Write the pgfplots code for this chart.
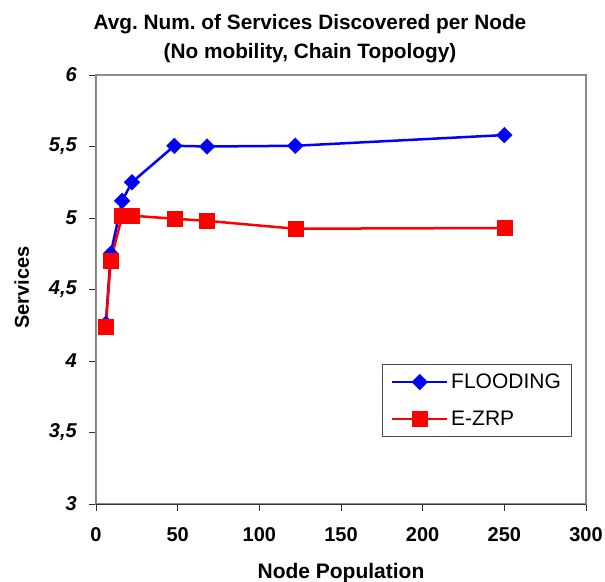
\documentclass[border=0pt]{standalone}
\usepackage{fontspec}
\setmainfont{Liberation Sans}
\usepackage{pgfplots}
\pgfplotsset{compat=1.18}
\frenchspacing
\newcommand\fs{\fontsize{20bp}{24bp}\selectfont}
\newcommand\fx{\fontsize{21bp}{25bp}\selectfont}
\newcommand\ft{\fontsize{20.8bp}{29bp}\selectfont}
\definecolor{flood}{RGB}{0,0,255}
\definecolor{ezrp}{RGB}{255,0,0}
\begin{document}
\begin{tikzpicture}
\begin{axis}[
  name=ax,
  scale only axis, width=490bp, height=429bp,
  xmin=0, xmax=300, ymin=3, ymax=6,
  xtick={0,50,...,300}, ytick={3,3.5,...,6},
  tick align=outside, major tick length=7bp,
  xtick pos=bottom, ytick pos=left,
  tick style={color=black!80, line width=0.9bp},
  axis line style={color=black!45, line width=1.2bp},
  /pgf/number format/assume math mode=true,
  /pgf/number format/use comma,
  yticklabel style={font=\fs\bfseries\itshape, anchor=east, inner sep=0pt, xshift=-12bp},
  xticklabel style={font=\fs\bfseries, anchor=base, inner sep=0pt, yshift=-30bp},
  title={Avg. Num. of Services Discovered per Node\\(No mobility, Chain Topology)},
  title style={font=\ft\bfseries, align=center, at={(214/490,1+6/429)}, anchor=south, inner sep=0pt},
  xlabel={Node Population},
  xlabel style={font=\fx\bfseries, at={(0.5,-75/429)}, anchor=base, inner sep=0pt},
  ylabel={Services},
  ylabel style={font=\fs\bfseries, at={(-67/490,0.505)}, anchor=base, inner sep=0pt},
  legend style={at={(476/490,67/429)}, anchor=south east, draw=black!70, line width=0.8bp,
    font=\fx, inner xsep=8.7bp, inner ysep=7.5bp, row sep=17bp, column sep=0.7bp,
    nodes={inner sep=2bp}},
  legend cell align=left,
  legend image code/.code={\draw[mark repeat=2, mark phase=2] plot coordinates {(0bp,0bp)(27.5bp,0bp)(55bp,0bp)};},
]
\addplot[color=flood, line width=2.5bp, mark=square*, mark size=5.5bp,
  mark options={rotate=45, solid, line width=0.5bp, fill=flood}]
  coordinates {(6,4.26)(9,4.75)(16,5.12)(22,5.25)(48,5.505)(68,5.50)(122,5.505)(250,5.58)};
\addlegendentry{FLOODING}
\addplot[color=ezrp, line width=2.5bp, mark=square*, mark size=7.5bp,
  mark options={solid, line width=0.5bp, fill=ezrp}]
  coordinates {(6,4.24)(9,4.70)(16,5.016)(22,5.016)(48,4.995)(68,4.98)(122,4.925)(250,4.93)};
\addlegendentry{E-ZRP}
\draw[black!80, line width=1bp] (rel axis cs:0,1) -- (rel axis cs:0,0) -- (rel axis cs:1,0);
\end{axis}
\pgfresetboundingbox
\path[use as bounding box] ([xshift=-96bp,yshift=-78bp]ax.south west) rectangle ([xshift=19bp,yshift=75bp]ax.north east);
\end{tikzpicture}
\end{document}
